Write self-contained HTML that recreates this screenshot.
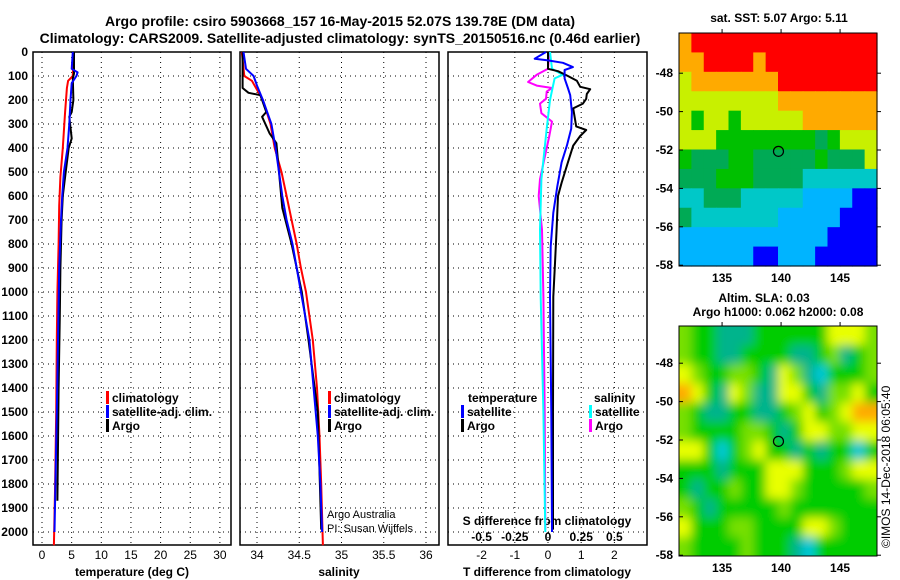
<!DOCTYPE html>
<html><head><meta charset="utf-8"><style>
html,body{margin:0;padding:0;background:#fff;}
svg{display:block;font-family:"Liberation Sans",Arial,sans-serif;}
.b{font-weight:bold;}
</style></head><body>
<svg id="c" width="900" height="580" viewBox="0 0 900 580" xmlns="http://www.w3.org/2000/svg">
<defs>
<filter id="blur" x="-20%" y="-20%" width="140%" height="140%"><feGaussianBlur stdDeviation="5"/></filter>
<clipPath id="slaclip"><rect x="679" y="326" width="198" height="230"/></clipPath>
</defs>
<text x="340" y="26" text-anchor="middle" class="b" font-size="14">Argo profile: csiro 5903668_157 16-May-2015 52.07S 139.78E (DM data)</text>
<text x="340" y="43" text-anchor="middle" class="b" font-size="14">Climatology: CARS2009. Satellite-adjusted climatology: synTS_20150516.nc (0.46d earlier)</text>
<text x="779" y="22" text-anchor="middle" class="b" font-size="12">sat. SST: 5.07 Argo: 5.11</text>
<text x="764" y="302" text-anchor="middle" class="b" font-size="12">Altim. SLA: 0.03</text>
<text x="778" y="316" text-anchor="middle" class="b" font-size="12">Argo h1000: 0.062 h2000: 0.08</text>
<text transform="translate(890,548) rotate(-90)" font-size="12">©IMOS 14-Dec-2018 06:05:40</text>
<g id="g"></g>
</svg>
<script>
// ---- data ----
const depthTicks=[0,100,200,300,400,500,600,700,800,900,1000,1100,1200,1300,1400,1500,1600,1700,1800,1900,2000];
const tTicks=[0,5,10,15,20,25,30];
const sTicks=[34,34.5,35,35.5,36];
const sTickLabels=["34","34.5","35","35.5","36"];
const dTTicks=[-2,-1,0,1,2];
const dSTicks=[-0.5,-0.25,0,0.25,0.5];
const dSTickLabels=["-0.5","-0.25","0","0.25","0.5"];

const tClimDepth=[0,100,120,150,250,400,520,640,800,1000,1200,1500,1830,2055];
const tClimVal=[5.3,5.2,4.4,4.2,3.9,3.5,3.1,2.9,2.8,2.6,2.5,2.4,2.2,2.0];
const tSatDepth=[0,70,85,100,130,200,300,400,500,600,700,900,1200,1500,2000];
const tSatVal=[5.2,5.0,6.0,5.8,5.0,4.8,4.6,4.3,3.7,3.4,3.2,2.9,2.7,2.5,2.1];
const tArgoDepth=[0,90,110,200,250,270,360,400,500,600,700,900,1100,1400,1870];
const tArgoVal=[5.4,5.4,5.2,5.3,5.0,4.6,5.0,4.5,4.0,3.5,3.3,3.1,3.0,2.8,2.6];

const sClimDepth=[0,100,120,200,300,400,500,600,700,800,900,1000,1100,1200,1400,1600,1800,2055];
const sClimVal=[33.82,33.85,33.94,34.07,34.16,34.21,34.29,34.35,34.41,34.47,34.52,34.58,34.62,34.66,34.71,34.74,34.76,34.78];
const sSatDepth=[0,70,100,140,200,300,400,500,600,700,800,900,1000,1100,1200,1400,1600,1800,2000];
const sSatVal=[33.84,33.87,33.96,34.0,34.07,34.17,34.22,34.26,34.30,34.35,34.42,34.47,34.52,34.57,34.62,34.67,34.72,34.75,34.77];
const sArgoDepth=[0,150,170,180,250,270,340,380,500,650,800,1000,1200,1500,1990];
const sArgoVal=[33.83,33.83,33.90,34.04,34.11,34.06,34.15,34.23,34.26,34.30,34.41,34.53,34.61,34.72,34.76];

const dTSatDepth=[0,28,35,45,63,75,110,150,180,250,320,390,460,560,670,810,1020,1500,2000];
const dTSatVal=[-0.06,-0.4,0.0,0.45,0.75,0.5,0.5,0.6,0.67,0.72,0.7,0.57,0.41,0.28,0.16,0.08,0.06,0.1,0.12];
const dTArgoDepth=[0,70,80,100,120,145,155,175,195,215,235,310,325,350,390,460,545,600,740,880,1020,1500,1990];
const dTArgoVal=[0,0,0.3,0.6,0.87,0.97,1.27,1.17,1.15,1.05,0.76,0.85,1.15,0.97,0.76,0.6,0.41,0.3,0.26,0.21,0.16,0.15,0.15];
const dSSatDepth=[0,70,95,110,200,320,530,740,1020,1500,2000];
const dSSatVal=[0.015,0.03,0.11,0.05,0.015,-0.01,-0.05,-0.06,-0.055,-0.035,-0.02];
const dSArgoDepth=[0,70,95,125,140,150,165,195,215,255,290,350,530,600,740,1020,1500,1990];
const dSArgoVal=[0.01,0,-0.085,-0.15,-0.085,0.03,-0.01,-0.015,-0.06,-0.05,0.03,0.01,-0.06,-0.07,-0.045,-0.035,-0.025,-0.02];

const sstPalette=['#0000ff','#00b4ff','#00c8c8','#00aa55','#00c000','#c8f000','#ffaa00','#ff0000'];
const sstGrid=[
[6,7,7,7,7,7,7,7,7,7,7,7,7,7,7,7],
[6,6,7,7,7,7,6,7,7,7,7,7,7,7,7,7],
[5,6,6,6,6,6,6,6,7,7,7,7,7,7,7,7],
[5,5,5,5,5,5,5,5,6,6,6,6,6,6,6,6],
[5,4,5,5,4,5,5,5,5,5,6,6,6,6,6,6],
[5,5,5,4,4,4,4,4,4,4,4,3,4,5,5,5],
[4,3,3,3,4,4,3,3,3,3,3,4,3,3,3,5],
[3,3,3,4,4,4,3,3,3,3,2,2,2,2,2,2],
[2,2,3,3,3,2,2,2,2,2,1,1,1,1,0,0],
[3,2,2,2,2,2,2,2,1,1,1,1,1,0,0,0],
[1,1,1,1,1,1,1,1,1,1,1,1,0,0,0,0],
[1,1,1,1,1,1,0,0,1,1,1,0,0,0,0,0]];
const slaPalette=['#00c8dc','#00b48c','#00cc00','#77e000','#e8ff00','#ffaa00'];
const slaGrid=[
[3,2,2,1,1,1,2,2,2,2,2,2,4,4,4,3],
[3,2,2,1,1,2,2,2,2,1,1,2,3,1,2,3],
[4,3,2,2,3,3,2,1,4,3,1,0,2,2,2,3],
[5,4,2,1,4,3,1,1,4,4,2,1,3,3,4,2],
[3,2,1,1,2,2,1,1,2,3,4,2,3,4,5,5],
[3,2,2,2,2,3,3,2,1,2,4,4,3,3,4,4],
[4,4,2,0,2,3,4,2,2,1,2,1,2,2,0,2],
[2,2,2,1,2,2,2,4,4,4,2,2,2,3,4,4],
[2,1,2,2,3,2,2,4,4,3,2,2,2,2,2,3],
[3,2,1,2,2,2,2,2,3,2,2,2,2,2,2,2],
[4,2,2,2,3,3,2,2,2,2,4,4,3,2,2,2],
[3,2,2,2,2,3,2,2,2,1,0,2,2,2,2,2]];
const latTicks=[-48,-50,-52,-54,-56,-58];
const lonTicks=[135,140,145];
const argoLat=-52.07, argoLon=139.78;

// ---- drawing ----
const NS='http://www.w3.org/2000/svg';
const G=document.getElementById('g');
function el(t,a,p){const e=document.createElementNS(NS,t);for(const k in a)e.setAttribute(k,a[k]);(p||G).appendChild(e);return e;}
const yD=d=>52+0.24*d;
const PT=52,PB=545;
const xT=v=>42+5.93*v;
const xS=v=>257+84.5*(v-34);
const xDT=v=>548+33.2*v;
const xDS=v=>548+132.8*v;

function panel(x0,x1,name){
  const r=el('rect',{x:x0,y:PT,width:x1-x0,height:PB-PT,fill:'none',stroke:'#000','stroke-width':1.5});
  
  
  depthTicks.forEach(d=>{
    const l=el('line',{x1:x0,x2:x1,y1:yD(d),y2:yD(d),stroke:'#000','stroke-width':1,'stroke-dasharray':'1,4'});
    
    
  });
}
function vgrid(vals,f,name){
  vals.forEach(v=>{
    const l=el('line',{x1:f(v),x2:f(v),y1:PT,y2:PB,stroke:'#000','stroke-width':1,'stroke-dasharray':'1,4'});
    
    
  });
}
function line(ds,vs,f,color,name){
  const pts=ds.map((d,i)=>f(vs[i]).toFixed(1)+','+yD(d).toFixed(1)).join(' ');
  const p=el('polyline',{points:pts,fill:'none',stroke:color,'stroke-width':2,'stroke-linejoin':'round'});
  
  
}
function txt(x,y,s,o){const t=el('text',Object.assign({x:x,y:y,'font-size':12},o||{}));t.textContent=s;return t;}

panel(33,231,'temperature-panel');
panel(240,439,'salinity-panel');
panel(448,647,'difference-panel');
vgrid(tTicks,xT,'temperature');
vgrid(sTicks,xS,'salinity');
vgrid(dTTicks,xDT,'difference');

depthTicks.forEach(d=>{
  const t=txt(28,yD(d)+4,String(d),{'text-anchor':'end','class':'b'});
  
  
});
tTicks.forEach(v=>{const t=txt(xT(v),559,String(v),{'text-anchor':'middle'});
  
  });
sTicks.forEach((v,i)=>{const t=txt(xS(v),559,sTickLabels[i],{'text-anchor':'middle'});
  
  });
dTTicks.forEach(v=>{const t=txt(xDT(v),559,String(v),{'text-anchor':'middle'});
  
  });
dSTicks.forEach((v,i)=>{const t=txt(xDS(v),541,dSTickLabels[i],{'text-anchor':'middle','class':'b'});
  
  });
let a;
a=txt(132,576,'temperature (deg C)',{'text-anchor':'middle','class':'b'});


a=txt(339,576,'salinity',{'text-anchor':'middle','class':'b'});


a=txt(547,576,'T difference from climatology',{'text-anchor':'middle','class':'b'});


a=txt(547,525,'S difference from climatology',{'text-anchor':'middle','class':'b'});


a=txt(327,518,'Argo Australia',{'font-size':11});


a=txt(327,532,'PI: Susan Wijffels',{'font-size':11});



line(tClimDepth,tClimVal,xT,'#ff0000','temperature-climatology-line');
line(tArgoDepth,tArgoVal,xT,'#000000','temperature-argo-line');
line(tSatDepth,tSatVal,xT,'#0000ff','temperature-satellite-line');
line(sClimDepth,sClimVal,xS,'#ff0000','salinity-climatology-line');
line(sArgoDepth,sArgoVal,xS,'#000000','salinity-argo-line');
line(sSatDepth,sSatVal,xS,'#0000ff','salinity-satellite-line');
line(dSArgoDepth,dSArgoVal,xDS,'#ff00ff','sdiff-argo-line');
line(dSSatDepth,dSSatVal,xDS,'#00ffff','sdiff-satellite-line');
line(dTArgoDepth,dTArgoVal,xDT,'#000000','tdiff-argo-line');
line(dTSatDepth,dTSatVal,xDT,'#0000ff','tdiff-satellite-line');

function legend(x,y,color,label,name){
  const r=el('rect',{x:x,y:y-10,width:3,height:13,fill:color});
  
  
  const t=txt(x+6,y+1,label,{'class':'b'});
  
  
}
legend(106,401,'#ff0000','climatology','legend-temp-climatology');
legend(106,415,'#0000ff','satellite-adj. clim.','legend-temp-satellite');
legend(106,429,'#000000','Argo','legend-temp-argo');
legend(328,401,'#ff0000','climatology','legend-sal-climatology');
legend(328,415,'#0000ff','satellite-adj. clim.','legend-sal-satellite');
legend(328,429,'#000000','Argo','legend-sal-argo');
a=txt(468,402,'temperature',{'class':'b'});


a=txt(594,402,'salinity',{'class':'b'});


legend(461,415,'#0000ff','satellite','legend-tdiff-satellite');
legend(461,429,'#000000','Argo','legend-tdiff-argo');
legend(589,415,'#00ffff','satellite','legend-sdiff-satellite');
legend(589,429,'#ff00ff','Argo','legend-sdiff-argo');

// maps
function drawMap(y0,y1,grid,pal,name,latRef,smooth){
  const x0=679,x1=877;
  const rows=grid.length, cols=grid[0].length;
  const cw=(x1-x0)/cols, ch=(y1-y0)/rows;
  const pad=smooth?15:0;
  let holder=G;
  if(smooth){
    const outer=el('g',{'clip-path':'url(#slaclip)'});
    holder=el('g',{filter:'url(#blur)'},outer);
  }
  grid.forEach((row,i)=>row.forEach((v,j)=>{
    let x=x0+j*cw, y=y0+i*ch, w=cw+0.6, h=ch+0.6;
    if(j===0){x-=pad;w+=pad;}
    if(j===cols-1){w+=pad;}
    if(i===0){y-=pad;h+=pad;}
    if(i===rows-1){h+=pad;}
    const r=el('rect',{x:x.toFixed(2),y:y.toFixed(2),width:w.toFixed(2),height:h.toFixed(2),fill:pal[v]},holder);
    
    
  }));
  const fr=el('rect',{x:x0,y:y0,width:x1-x0,height:y1-y0,fill:'none',stroke:'#000','stroke-width':1});
  
  
  const yL=lat=>latRef+19.2*(-52-lat);
  const xL=lon=>x0+11.8*(lon-131.35);
  latTicks.forEach(l=>{
    const t=txt(673,yL(l)+4,String(l),{'text-anchor':'end','class':'b'});
    
    
    el('line',{x1:x0,x2:x0+4,y1:yL(l),y2:yL(l),stroke:'#000'});
    el('line',{x1:x1,x2:x1+4,y1:yL(l),y2:yL(l),stroke:'#000'});
  });
  lonTicks.forEach(l=>{
    const t=txt(xL(l),y1+16,String(l),{'text-anchor':'middle','class':'b'});
    
    
    el('line',{x1:xL(l),x2:xL(l),y1:y0-4,y2:y0,stroke:'#000'});
  });
  const c=el('circle',{cx:xL(argoLon),cy:yL(argoLat),r:5,fill:'none',stroke:'#000','stroke-width':1.2});
  
  
}
drawMap(33,266,sstGrid,sstPalette,'sst-map',150,false);
drawMap(326,556,slaGrid,slaPalette,'sla-map',440,true);
</script>
</body></html>
